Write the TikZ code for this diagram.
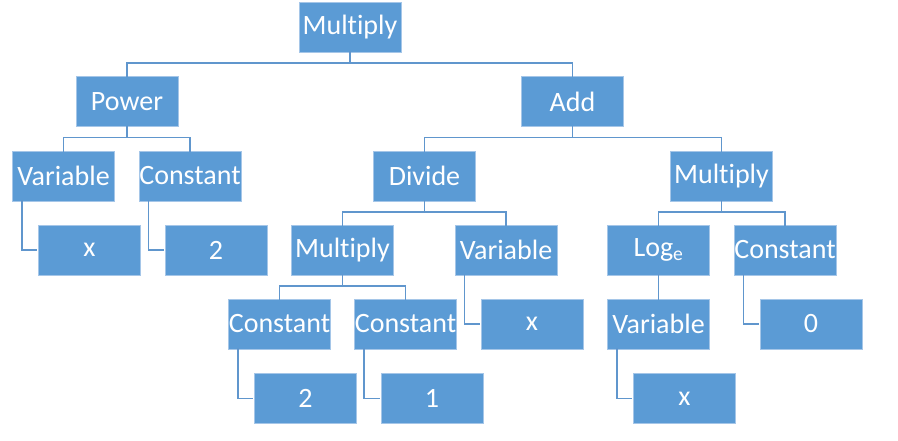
\documentclass[tikz,border=0pt]{standalone}
\usepackage{fontspec}
\setmainfont[RawFeature={-liga;-clig}]{Carlito}
\definecolor{boxfill}{RGB}{91,155,213}
\definecolor{boxline}{RGB}{165,198,232}
\definecolor{conn}{RGB}{96,150,205}
\begin{document}
\begin{tikzpicture}[x=1pt,y=-1pt,
  tbox/.style={rectangle, fill=boxfill, draw=boxline, line width=0.8pt,
    minimum width=102pt, minimum height=50pt, inner sep=0pt,
    text=white, font=\fontsize{28}{30}\selectfont},
  conline/.style={draw=conn, line width=1.4pt}]
\useasboundingbox (0,0) rectangle (898,440);
\node[tbox] (m1) at (350,27) {Multiply};
\node[tbox] (pw) at (127,101.5) {Power};
\node[tbox] (ad) at (572.5,101.5) {Add};
\node[tbox] (v1) at (63.5,176) {Variable};
\node[tbox] (c1) at (190,176) {Constant};
\node[tbox] (dv) at (424.5,176) {Divide};
\node[tbox] (m2) at (721.5,176) {Multiply};
\node[tbox] (x1) at (89.5,250) {x};
\node[tbox] (n2) at (216,250) {2};
\node[tbox] (m3) at (342.5,250) {Multiply};
\node[tbox] (v2) at (506,250) {Variable};
\node[tbox] (lg) at (658.5,250) {Log\textsubscript{e}};
\node[tbox] (c2) at (785,250) {Constant};
\node[tbox] (c3) at (279.5,324) {Constant};
\node[tbox] (c4) at (405.5,324) {Constant};
\node[tbox] (x2) at (532,324) {x};
\node[tbox] (v3) at (658.5,324) {Variable};
\node[tbox] (n0) at (811,324) {0};
\node[tbox] (n2b) at (305.5,398.5) {2};
\node[tbox] (n1) at (432,398.5) {1};
\node[tbox] (x3) at (684.5,398.5) {x};
% bus connectors
\foreach \p/\c in {m1/pw, m1/ad, pw/v1, pw/c1, ad/dv, ad/m2, dv/m3, dv/v2, m2/lg, m2/c2, m3/c3, m3/c4}
  \draw[conline] ([yshift=1pt]\p.south) -- ++(0,11.5) -| ([yshift=-1pt]\c.north);
% straight connector
\draw[conline] ([yshift=1pt]lg.south) -- ([yshift=-1pt]v3.north);
% side connectors
\foreach \p/\c in {v1/x1, c1/n2, v2/x2, c2/n0, c3/n2b, c4/n1, v3/x3}
  \draw[conline] ([xshift=10pt,yshift=1pt]\p.south west) |- ([xshift=-1pt]\c.west);
\end{tikzpicture}
\end{document}
